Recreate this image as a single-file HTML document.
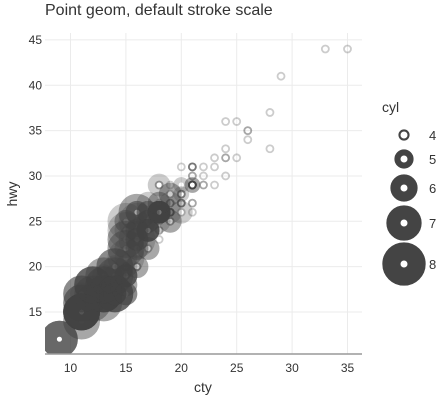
<!DOCTYPE html>
<html><head><meta charset="utf-8"><style>
body{margin:0;background:#fff;}
svg{font-family:"Liberation Sans",sans-serif;}
</style></head><body>
<svg id="chart" width="448" height="400">
<text x="45" y="15" font-size="16" fill="#333">Point geom, default stroke scale</text>
<defs><clipPath id="pc"><rect x="45" y="33" width="317" height="321"/></clipPath></defs>
<g id="grid"></g>
<g id="pts" clip-path="url(#pc)"></g>
<line x1="45" y1="354" x2="362" y2="354" stroke="#999" stroke-width="1.5"/>
<g id="ticks"></g>
<text x="203" y="392" font-size="14" fill="#333" text-anchor="middle">cty</text>
<text transform="translate(17,194) rotate(-90)" font-size="14" fill="#333" text-anchor="middle">hwy</text>
<text x="382" y="112" font-size="14" fill="#333">cyl</text>
<g id="legend"></g>
</svg>
<script>
const xTicks=[10,15,20,25,30,35];
const yTicks=[15,20,25,30,35,40,45];
const legendCyl=[4,5,6,7,8];
// mpg data, one record per index (grouped by model)
const cty=[
18,21,20,21,16,18,18,
18,16,20,19,15,17,17,15,
15,17,16,
14,11,14,13,12,
16,15,16,15,15,
14,11,11,14,
19,22,18,18,17,
18,17,16,16,17,17,11,15,15,16,16,
15,15,13,13,14,14,9,11,11,
13,13,9,13,11,13,11,
12,9,13,13,12,9,11,11,13,11,
11,11,12,
14,15,14,14,13,13,
14,13,13,13,11,12,11,
18,18,17,16,15,15,15,15,14,
28,24,25,23,24,26,25,24,21,
18,18,21,21,18,18,19,
19,19,20,20,17,16,17,
17,15,15,14,9,14,13,11,
11,12,12,11,
11,11,12,
14,13,13,13,
21,19,23,23,19,19,18,
19,20,19,
14,15,14,12,
18,16,17,18,16,
18,18,20,19,20,18,
21,19,19,19,20,20,19,20,
15,16,15,15,16,14,
21,21,21,21,18,18,19,
21,21,21,22,18,18,18,
24,24,26,28,26,
11,13,
15,16,17,15,15,15,16,17,
21,19,21,22,17,
33,21,19,22,21,21,21,16,17,
35,29,21,19,20,20,
21,18,19,21,16,18,17];
const hwy=[
29,29,31,30,26,26,27,
26,25,28,27,25,25,25,25,
24,25,23,
20,15,20,17,17,
26,23,26,25,24,
19,14,15,17,
27,30,26,29,26,
24,24,22,22,24,24,17,22,21,23,23,
19,18,17,17,17,17,12,15,15,
17,17,12,17,16,18,15,
16,12,17,17,16,12,15,16,17,15,
17,17,18,
17,19,17,19,19,17,
17,16,16,17,15,17,15,
26,25,26,24,21,22,23,22,20,
33,32,32,29,32,34,36,36,29,
26,27,30,31,26,26,28,
26,29,28,27,24,24,24,
22,19,20,17,12,19,18,14,
15,18,18,15,
17,16,18,
17,19,19,17,
29,27,31,32,27,26,26,
25,26,25,
17,17,20,18,
26,26,27,26,25,
25,24,27,25,26,23,
26,26,26,26,28,27,25,27,
20,20,19,17,20,17,
29,27,31,31,26,26,28,
27,29,31,31,26,26,27,
30,33,35,37,35,
15,18,
20,20,22,17,19,18,20,22,
29,26,29,29,24,
44,29,26,29,29,29,29,23,24,
44,41,29,26,28,29,
29,29,28,29,26,26,26];
const cyl=[
4,4,4,4,6,6,6,
4,4,4,4,6,6,6,6,
6,6,8,
8,8,8,8,8,
8,8,8,8,8,
8,8,8,8,
4,4,6,6,6,
4,6,6,6,6,6,6,6,6,6,6,
6,6,6,6,8,8,8,8,8,
6,8,8,8,8,8,8,
8,8,8,8,8,8,8,8,8,8,
8,8,8,
6,6,6,6,8,8,
6,8,8,8,8,8,8,
6,6,6,6,8,8,8,8,8,
4,4,4,4,4,4,4,4,4,
4,4,4,4,6,6,6,
4,4,4,4,6,6,6,
6,6,6,8,8,8,8,8,
8,8,8,8,
8,8,8,
6,6,8,8,
4,4,4,4,6,6,6,
6,6,6,
6,6,6,8,
6,6,6,6,8,
4,4,4,4,4,4,
4,4,4,4,4,4,4,4,
4,4,6,6,6,8,
4,4,4,4,6,6,6,
4,4,4,4,6,6,6,
4,4,4,4,4,
8,8,
4,4,4,6,6,6,6,6,
4,4,4,4,6,
4,4,4,4,4,5,5,6,6,
4,4,4,4,5,5,
4,4,4,4,6,6,6];
const NS='http://www.w3.org/2000/svg';
const X0=45,X1=362,Y0=33,Y1=354;
function xs(v){return 70.5+(v-10)*11.08;}
function ys(v){return 312-(v-15)*9.07;}
function strokeW(c){return 1.8+(c-4)*3.5;}
const grid=document.getElementById('grid'),ticks=document.getElementById('ticks');
function mk(tag,attrs,parent){const e=document.createElementNS(NS,tag);for(const k in attrs)e.setAttribute(k,attrs[k]);parent.appendChild(e);return e;}
xTicks.forEach(t=>{
  const l=mk('line',{x1:xs(t),x2:xs(t),y1:Y0,y2:Y1,stroke:'#ebebeb','stroke-width':1},grid);
  
  
  const tx=mk('text',{x:xs(t),y:372,'font-size':12,fill:'#333','text-anchor':'middle'},ticks);
  tx.textContent=t;
  
  
});
yTicks.forEach(t=>{
  const l=mk('line',{x1:X0,x2:X1,y1:ys(t),y2:ys(t),stroke:'#ebebeb','stroke-width':1},grid);
  
  
  const tx=mk('text',{x:42,y:ys(t)+4,'font-size':12,fill:'#333','text-anchor':'end'},ticks);
  tx.textContent=t;
  
  
});
const pts=document.getElementById('pts');
const n=Math.min(cty.length,hwy.length,cyl.length);
for(let i=0;i<n;i++){
  const s=strokeW(cyl[i]);
  const c=mk('circle',{cx:xs(cty[i]),cy:ys(hwy[i]),r:2.6+s/2,fill:'none',stroke:'#444','stroke-opacity':0.27,'stroke-width':s},pts);
  
  
}
const lg=document.getElementById('legend');
const ly=[135,159,188,223,264];
legendCyl.forEach((c,i)=>{
  const s=strokeW(c)*1.15;
  const e=mk('circle',{cx:404,cy:ly[i],r:3.5+s/2,fill:'none',stroke:'#444','stroke-width':s},lg);
  
  
  const t=mk('text',{x:429,y:ly[i]+5,'font-size':13,fill:'#333'},lg);
  t.textContent=c;
  
  
});
</script>
</body></html>
